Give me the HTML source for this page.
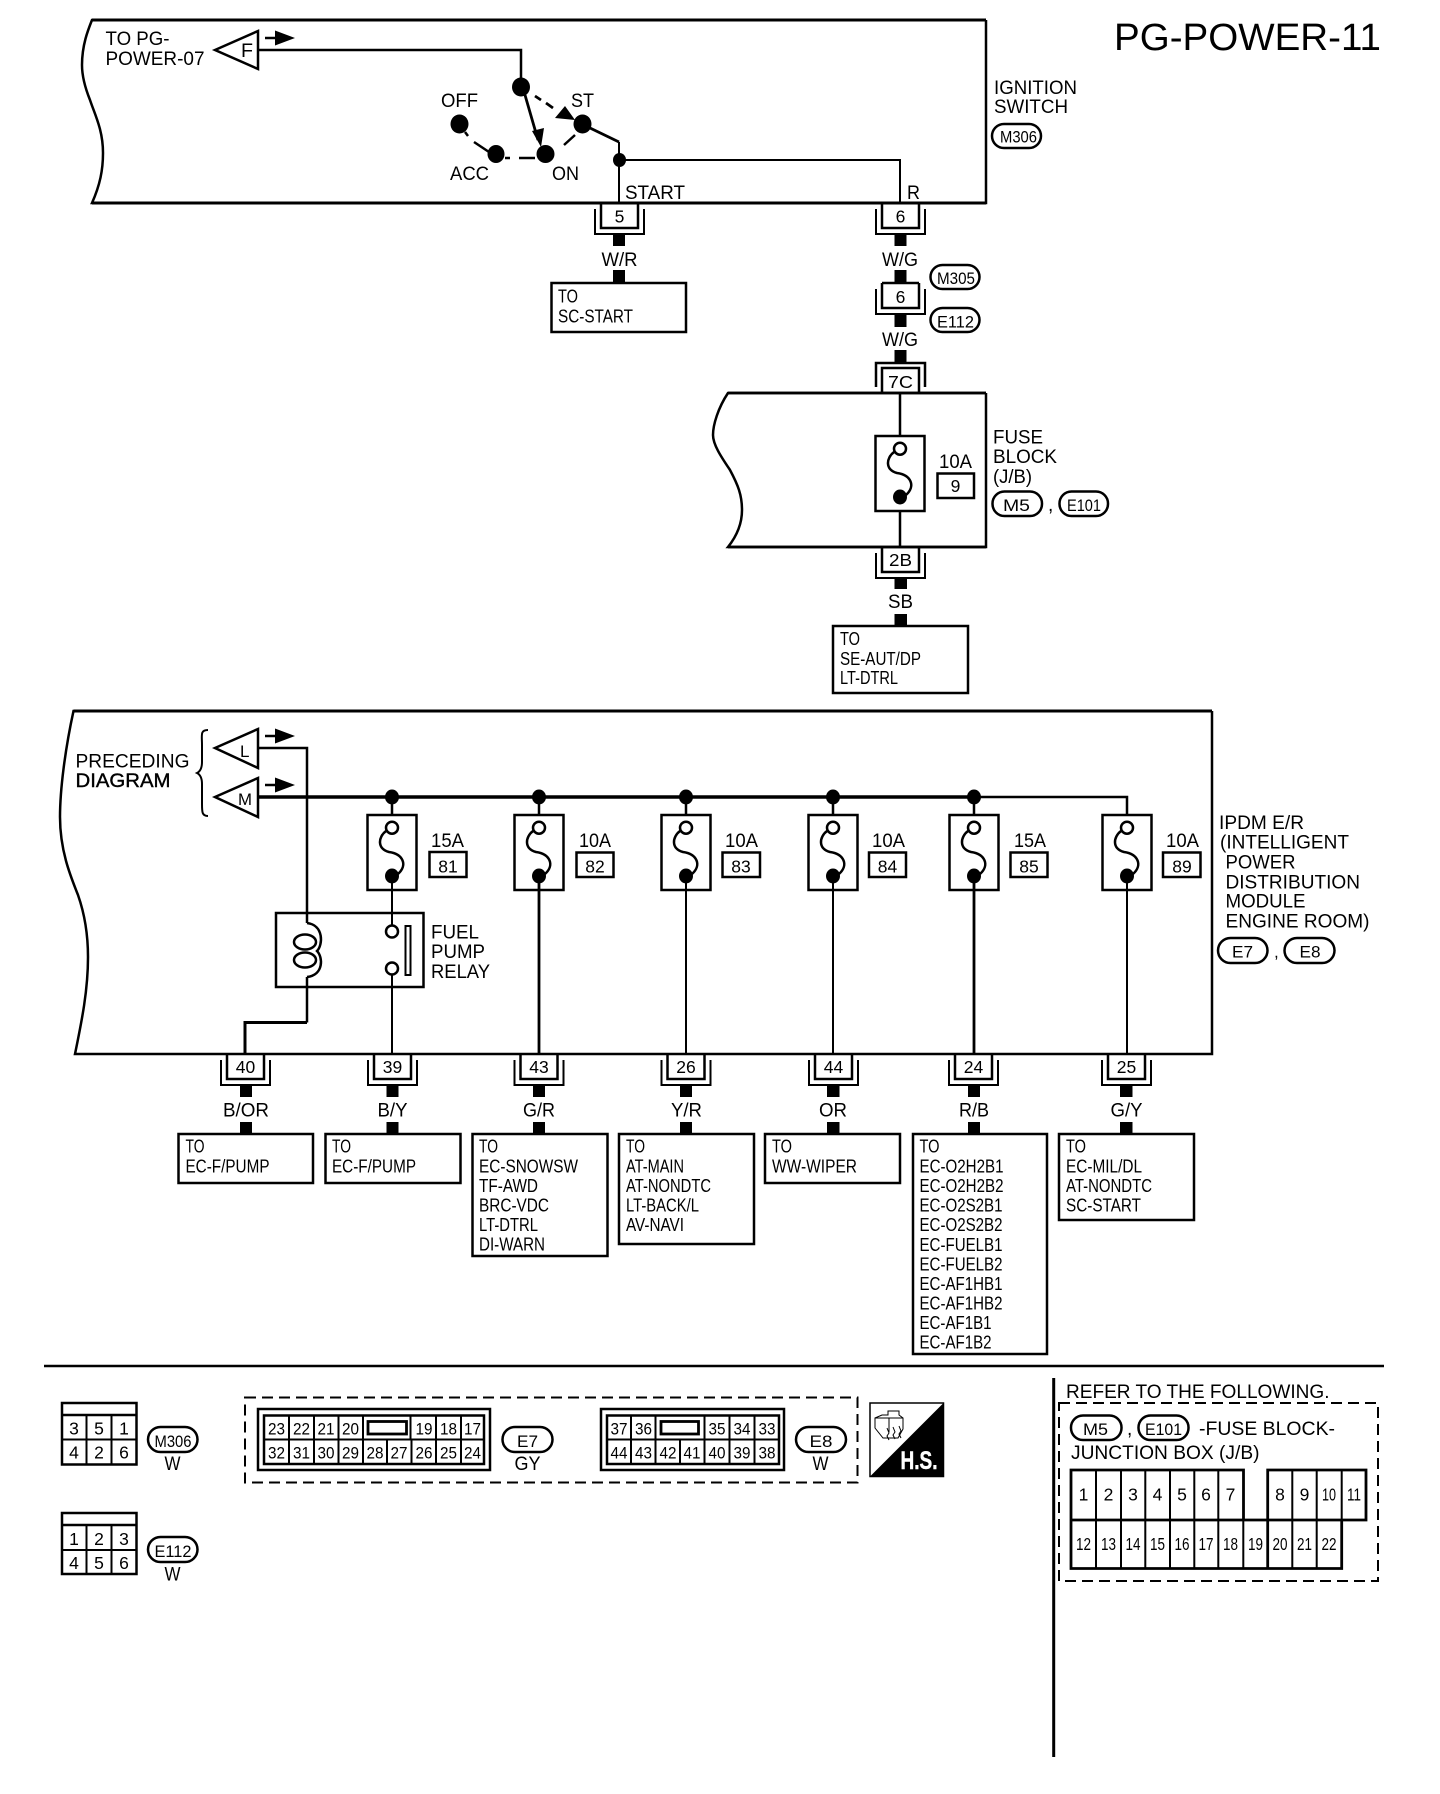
<!DOCTYPE html>
<html><head><meta charset="utf-8"><style>
html,body{margin:0;padding:0;background:#fff}
svg{display:block}
text{font-family:"Liberation Sans",sans-serif;fill:#000}
.l{font-size:19px}.b{font-size:18.5px}.n{font-size:17.5px;text-anchor:middle}.p{font-size:17px}
.s{fill:none;stroke:#000;stroke-width:2}
.t{fill:none;stroke:#000;stroke-width:3}
.w{fill:#fff;stroke:#000;stroke-width:2}
.c{stroke-width:2.2}.a{stroke-width:2.5}.d{stroke-width:2.8}.e{stroke-width:3.5}
</style></head><body>
<svg width="1440" height="1794" viewBox="0 0 1440 1794" xmlns="http://www.w3.org/2000/svg">
<defs>
<g id="fuse"><rect x="-24.5" y="0" width="49" height="75" class="w a"/><circle cx="0" cy="12.7" r="6" class="w a"/><path d="M-6 16C-14 22-15 34-3 37C11 39 16 50 6 59" class="s a"/><ellipse cx="0" cy="61" rx="7" ry="7.5"/></g>
<g id="conn"><path d="M-18.5 0V25H18.5V0" class="s a"/><path d="M-24.5 6V31H24.5V6" class="s"/></g>
<g id="arr"><path d="M0 0H12" class="s a"/><path d="M10-7.5L30 0L10 7.5Z"/></g>
<ellipse id="node" rx="7" ry="7.5"/>
</defs>

<text x="1114" y="50" font-size="38" textLength="267" lengthAdjust="spacingAndGlyphs">PG-POWER-11</text>

<!-- Ignition switch -->
<path d="M986 20V203H92C100 185 103 170 103 153C103 130 95 115 90 100C84 85 82 73 82 65C82 45 88 30 92 20H986" class="s a"/>
<path d="M92 20H986M92 203H986" class="t"/>
<path d="M215 50L258 31V69Z" class="s a"/>
<text x="241" y="57" class="l" textLength="12" lengthAdjust="spacingAndGlyphs">F</text>
<use href="#arr" x="265" y="38"/>
<text x="105.5" y="45" class="l" textLength="64" lengthAdjust="spacingAndGlyphs">TO PG-</text>
<text x="105.5" y="65" class="l" textLength="99" lengthAdjust="spacingAndGlyphs">POWER-07</text>
<path d="M258 50H521V85" class="s a"/>
<ellipse cx="521" cy="87" rx="9" ry="9.5"/>
<ellipse cx="459.5" cy="124" rx="9" ry="9.5"/>
<ellipse cx="496" cy="154" rx="8.5" ry="9"/>
<ellipse cx="545.5" cy="154" rx="9" ry="9"/>
<ellipse cx="582.5" cy="124" rx="9" ry="9.5"/>
<ellipse cx="619.5" cy="160" rx="6.5" ry="7"/>
<path d="M465 132L468 136M474 142L489 152M505 158H510M519 158H535M564 145L575 135" class="s a"/>
<path d="M525 95L538 140" class="s d"/>
<path d="M532 131L544 128L541 147Z"/>
<path d="M535 96L541 100M546 103L553 108" class="s d"/>
<path d="M555 118L565 106L575 120Z"/>
<path d="M619 142V203M619 160H900V203" class="s"/>
<path d="M590 128L619 142" class="s d"/>
<text x="441" y="107" class="l" textLength="37" lengthAdjust="spacingAndGlyphs">OFF</text>
<text x="571" y="107" class="l" textLength="23" lengthAdjust="spacingAndGlyphs">ST</text>
<text x="450" y="180" class="l" textLength="39" lengthAdjust="spacingAndGlyphs">ACC</text>
<text x="552" y="180" class="l" textLength="27" lengthAdjust="spacingAndGlyphs">ON</text>
<text x="625" y="199" class="l" textLength="60" lengthAdjust="spacingAndGlyphs">START</text>
<text x="907" y="199" class="l" textLength="13" lengthAdjust="spacingAndGlyphs">R</text>
<text x="994" y="94" class="l" textLength="83" lengthAdjust="spacingAndGlyphs">IGNITION</text>
<text x="994" y="113" class="l" textLength="74" lengthAdjust="spacingAndGlyphs">SWITCH</text>
<rect x="992" y="124" width="49" height="24" rx="12" class="s a"/>
<text x="1000" y="142.5" class="p" textLength="37" lengthAdjust="spacingAndGlyphs">M306</text>

<!-- connector 5 -->
<use href="#conn" x="619.5" y="203"/>
<text x="619.5" y="222.5" class="n">5</text>
<rect x="613" y="234" width="12" height="12"/>
<text x="601.5" y="266" class="l" textLength="36" lengthAdjust="spacingAndGlyphs">W/R</text>
<rect x="613" y="270" width="12" height="13"/>
<rect x="551.5" y="283" width="134.5" height="49" class="s a"/>
<text x="558" y="302.5" class="b" textLength="20" lengthAdjust="spacingAndGlyphs">TO</text>
<text x="558" y="322.5" class="b" textLength="75" lengthAdjust="spacingAndGlyphs">SC-START</text>

<!-- connector 6 chain -->
<use href="#conn" x="900.5" y="203"/>
<text x="900.5" y="222.5" class="n">6</text>
<rect x="894.5" y="234" width="12" height="12"/>
<text x="882" y="266" class="l" textLength="36" lengthAdjust="spacingAndGlyphs">W/G</text>
<rect x="894.5" y="270" width="12" height="13"/>
<path d="M882 283H919" class="s a"/>
<use href="#conn" x="900.5" y="283"/>
<text x="900.5" y="303" class="n">6</text>
<rect x="894.5" y="314" width="12" height="13"/>
<text x="882" y="346" class="l" textLength="36" lengthAdjust="spacingAndGlyphs">W/G</text>
<rect x="894.5" y="350" width="12" height="13"/>
<rect x="930.5" y="265" width="49" height="24" rx="12" class="s a"/>
<text x="937" y="284" class="p" textLength="38" lengthAdjust="spacingAndGlyphs">M305</text>
<rect x="930.5" y="308" width="49" height="24" rx="12" class="s a"/>
<text x="937" y="327.5" class="p" textLength="37" lengthAdjust="spacingAndGlyphs">E112</text>
<path d="M876 387V363H925V387M882 393V368H919V393" class="s a"/>
<text x="888" y="388" class="n" style="text-anchor:start" textLength="25" lengthAdjust="spacingAndGlyphs">7C</text>

<!-- fuse block -->
<path d="M986 393V547H728C736 537 742 525 742 510C742 495 738 485 730 470C722 458 713 445 713 435C713 425 718 408 728 393H986" class="s a"/>
<path d="M728 393H986M728 547H986" class="s d"/>
<path d="M900 393V547" class="s a"/>
<use href="#fuse" x="900" y="436"/>
<text x="939" y="468" class="l" textLength="33" lengthAdjust="spacingAndGlyphs">10A</text>
<rect x="937.5" y="473.5" width="36.5" height="24.5" class="s a"/>
<text x="955.5" y="492" class="n">9</text>
<text x="993" y="443.5" class="l" textLength="50" lengthAdjust="spacingAndGlyphs">FUSE</text>
<text x="993" y="463" class="l" textLength="64" lengthAdjust="spacingAndGlyphs">BLOCK</text>
<text x="993" y="483" class="l" textLength="39" lengthAdjust="spacingAndGlyphs">(J/B)</text>
<rect x="992.5" y="491.5" width="49.5" height="24.5" rx="12" class="s a"/>
<text x="1003" y="511" class="p" textLength="27" lengthAdjust="spacingAndGlyphs">M5</text>
<text x="1048" y="511" class="l">,</text>
<rect x="1059.5" y="491.5" width="48.5" height="24.5" rx="12" class="s a"/>
<text x="1067" y="511" class="p" textLength="34" lengthAdjust="spacingAndGlyphs">E101</text>
<use href="#conn" x="900.5" y="547"/>
<text x="889" y="566" class="n" style="text-anchor:start" textLength="23" lengthAdjust="spacingAndGlyphs">2B</text>
<rect x="894.5" y="577" width="12.5" height="12"/>
<text x="888" y="608" class="l" textLength="25" lengthAdjust="spacingAndGlyphs">SB</text>
<rect x="894.5" y="614" width="12.5" height="12"/>
<rect x="833" y="626" width="135" height="67" class="s a"/>
<text x="840" y="645" class="b" textLength="20" lengthAdjust="spacingAndGlyphs">TO</text>
<text x="840" y="665" class="b" textLength="81" lengthAdjust="spacingAndGlyphs">SE-AUT/DP</text>
<text x="840" y="684" class="b" textLength="58" lengthAdjust="spacingAndGlyphs">LT-DTRL</text>

<!-- IPDM -->
<path d="M1212 711V1054H75C82 1020 88 990 88 957C88 935 85 915 78 895C70 875 60 850 60 817C60 790 65 750 73.5 711H1212" class="s a"/>
<path d="M73.5 711H1212" class="t"/>
<path d="M208 730C200 730 202 735 202 745V762C202 770 199 772 197 773C199 774 202 776 202 784V804C202 812 202 816 208 816" class="s"/>
<text x="75.5" y="767.5" class="l" textLength="114" lengthAdjust="spacingAndGlyphs">PRECEDING</text>
<text x="75.5" y="787" class="l" textLength="95" lengthAdjust="spacingAndGlyphs" stroke="#000" stroke-width=".4">DIAGRAM</text>
<path d="M215 748L258 729V768Z" class="s a"/>
<text x="240" y="757" class="p">L</text>
<use href="#arr" x="265" y="736"/>
<path d="M215 797L258 778V817Z" class="s a"/>
<text x="238" y="805" class="p" textLength="14" lengthAdjust="spacingAndGlyphs">M</text>
<use href="#arr" x="265" y="785"/>
<path d="M258 748H307V923" class="s a"/>
<rect x="276" y="913" width="147.5" height="74" class="s a"/>
<path d="M307 923C324 925 323 945 317 951C323 957 324 975 307 977" class="s a"/>
<ellipse cx="305" cy="942" rx="11" ry="7.5" class="s a"/>
<ellipse cx="305" cy="960" rx="11" ry="7.5" class="s a"/>
<path d="M307 977V1022.5" class="s a"/>
<path d="M307 1022.5H245V1054" class="t"/>
<path d="M258 797H1127V815" class="s a"/>
<path d="M258 797H974" class="s e"/>
<use href="#node" x="392" y="797"/><use href="#node" x="539" y="797"/><use href="#node" x="686" y="797"/><use href="#node" x="833" y="797"/><use href="#node" x="974" y="797"/>
<path d="M392 797V815M539 797V815M686 797V815M833 797V815M974 797V815" class="s a"/>
<use href="#fuse" x="392" y="815"/><use href="#fuse" x="539" y="815"/><use href="#fuse" x="686" y="815"/><use href="#fuse" x="833" y="815"/><use href="#fuse" x="974" y="815"/><use href="#fuse" x="1127" y="815"/>
<path d="M392 876V925M392 975V1054M686 876V1054M833 876V1054M1127 876V1054" class="s"/>
<path d="M539 876V1054M974 876V1054" class="s d"/>
<circle cx="392" cy="931.5" r="6" class="w a"/><circle cx="392" cy="968.5" r="6" class="w a"/>
<rect x="405.5" y="926" width="5" height="49" class="w"/>
<text x="431" y="938.5" class="l" textLength="48" lengthAdjust="spacingAndGlyphs">FUEL</text>
<text x="431" y="958" class="l" textLength="54" lengthAdjust="spacingAndGlyphs">PUMP</text>
<text x="431" y="978" class="l" textLength="59" lengthAdjust="spacingAndGlyphs">RELAY</text>

<text x="431" y="847" class="l" textLength="33" lengthAdjust="spacingAndGlyphs">15A</text>
<rect x="429.5" y="852" width="37" height="25" class="s a"/><text x="448" y="872.5" class="n">81</text>
<text x="579" y="847" class="l" textLength="32" lengthAdjust="spacingAndGlyphs">10A</text>
<rect x="576.5" y="852.5" width="37" height="24.5" class="s a"/><text x="595" y="872.5" class="n">82</text>
<text x="725" y="847" class="l" textLength="33" lengthAdjust="spacingAndGlyphs">10A</text>
<rect x="722.5" y="852.5" width="37.5" height="24.5" class="s a"/><text x="741" y="872.5" class="n">83</text>
<text x="872" y="847" class="l" textLength="33" lengthAdjust="spacingAndGlyphs">10A</text>
<rect x="869" y="852.5" width="37" height="24.5" class="s a"/><text x="887.5" y="872.5" class="n">84</text>
<text x="1014" y="847" class="l" textLength="32" lengthAdjust="spacingAndGlyphs">15A</text>
<rect x="1010.5" y="852.5" width="37" height="24.5" class="s a"/><text x="1029" y="872.5" class="n">85</text>
<text x="1166" y="847" class="l" textLength="33" lengthAdjust="spacingAndGlyphs">10A</text>
<rect x="1163" y="852.5" width="37.5" height="24.5" class="s a"/><text x="1182" y="872.5" class="n">89</text>

<text x="1219" y="829" class="l" textLength="85" lengthAdjust="spacingAndGlyphs">IPDM E/R</text>
<text x="1220" y="848.5" class="l" textLength="129" lengthAdjust="spacingAndGlyphs">(INTELLIGENT</text>
<text x="1225.5" y="868.5" class="l" textLength="70" lengthAdjust="spacingAndGlyphs">POWER</text>
<text x="1225.5" y="888.5" class="l" textLength="134.5" lengthAdjust="spacingAndGlyphs">DISTRIBUTION</text>
<text x="1225.5" y="907.5" class="l" textLength="80" lengthAdjust="spacingAndGlyphs">MODULE</text>
<text x="1225.5" y="927.5" class="l" textLength="144" lengthAdjust="spacingAndGlyphs">ENGINE ROOM)</text>
<rect x="1218" y="938" width="49.5" height="25" rx="12.5" class="s a"/>
<text x="1232" y="957.5" class="p" textLength="21" lengthAdjust="spacingAndGlyphs">E7</text>
<text x="1274" y="957.5" class="p">,</text>
<rect x="1284.5" y="938" width="50" height="25" rx="12.5" class="s a"/>
<text x="1299.5" y="957.5" class="p" textLength="21" lengthAdjust="spacingAndGlyphs">E8</text>

<!-- bottom connectors -->
<use href="#conn" x="245.5" y="1054"/><text x="245.5" y="1073" class="n">40</text>
<use href="#conn" x="392.5" y="1054"/><text x="392.5" y="1073" class="n">39</text>
<use href="#conn" x="539" y="1054"/><text x="539" y="1073" class="n">43</text>
<use href="#conn" x="686" y="1054"/><text x="686" y="1073" class="n">26</text>
<use href="#conn" x="833.5" y="1054"/><text x="833.5" y="1073" class="n">44</text>
<use href="#conn" x="973.5" y="1054"/><text x="973.5" y="1073" class="n">24</text>
<use href="#conn" x="1126.5" y="1054"/><text x="1126.5" y="1073" class="n">25</text>
<g>
<rect x="240" y="1085" width="12" height="12"/><rect x="240" y="1122" width="12" height="12"/>
<rect x="386.5" y="1085" width="12" height="12"/><rect x="386.5" y="1122" width="12" height="12"/>
<rect x="533" y="1085" width="12" height="12"/><rect x="533" y="1122" width="12" height="12"/>
<rect x="680" y="1085" width="12" height="12"/><rect x="680" y="1122" width="12" height="12"/>
<rect x="827" y="1085" width="12.5" height="12"/><rect x="827" y="1122" width="12.5" height="12"/>
<rect x="968" y="1085" width="12" height="12"/><rect x="968" y="1122" width="12" height="12"/>
<rect x="1120" y="1085" width="12.5" height="12"/><rect x="1120" y="1122" width="12.5" height="12"/>
</g>
<text x="223" y="1116.5" class="l" textLength="46" lengthAdjust="spacingAndGlyphs">B/OR</text>
<text x="377.5" y="1116.5" class="l" textLength="30" lengthAdjust="spacingAndGlyphs">B/Y</text>
<text x="523" y="1116.5" class="l" textLength="32" lengthAdjust="spacingAndGlyphs">G/R</text>
<text x="671" y="1116.5" class="l" textLength="31" lengthAdjust="spacingAndGlyphs">Y/R</text>
<text x="819" y="1116.5" class="l" textLength="28" lengthAdjust="spacingAndGlyphs">OR</text>
<text x="959" y="1116.5" class="l" textLength="30" lengthAdjust="spacingAndGlyphs">R/B</text>
<text x="1110.5" y="1116.5" class="l" textLength="32" lengthAdjust="spacingAndGlyphs">G/Y</text>

<rect x="178.5" y="1134" width="134.5" height="49" class="s a"/>
<text x="185.5" y="1152.5" class="b" textLength="19" lengthAdjust="spacingAndGlyphs">TO</text>
<text x="185.5" y="1172.5" class="b" textLength="84" lengthAdjust="spacingAndGlyphs">EC-F/PUMP</text>
<rect x="325.5" y="1134" width="135" height="49" class="s a"/>
<text x="332" y="1152.5" class="b" textLength="19" lengthAdjust="spacingAndGlyphs">TO</text>
<text x="332" y="1172.5" class="b" textLength="84" lengthAdjust="spacingAndGlyphs">EC-F/PUMP</text>
<rect x="472.5" y="1134" width="135" height="122" class="s a"/>
<text x="479" y="1152.5" class="b" textLength="19" lengthAdjust="spacingAndGlyphs">TO</text>
<text x="479" y="1172.5" class="b" textLength="99" lengthAdjust="spacingAndGlyphs">EC-SNOWSW</text>
<text x="479" y="1192" class="b" textLength="59" lengthAdjust="spacingAndGlyphs">TF-AWD</text>
<text x="479" y="1211.5" class="b" textLength="70" lengthAdjust="spacingAndGlyphs">BRC-VDC</text>
<text x="479" y="1231" class="b" textLength="59" lengthAdjust="spacingAndGlyphs">LT-DTRL</text>
<text x="479" y="1250.5" class="b" textLength="66" lengthAdjust="spacingAndGlyphs">DI-WARN</text>
<rect x="619" y="1134" width="135" height="110" class="s a"/>
<text x="626" y="1152.5" class="b" textLength="19" lengthAdjust="spacingAndGlyphs">TO</text>
<text x="626" y="1172.5" class="b" textLength="58" lengthAdjust="spacingAndGlyphs">AT-MAIN</text>
<text x="626" y="1192" class="b" textLength="85" lengthAdjust="spacingAndGlyphs">AT-NONDTC</text>
<text x="626" y="1211.5" class="b" textLength="73" lengthAdjust="spacingAndGlyphs">LT-BACK/L</text>
<text x="626" y="1231" class="b" textLength="58" lengthAdjust="spacingAndGlyphs">AV-NAVI</text>
<rect x="765" y="1134" width="135" height="49" class="s a"/>
<text x="772" y="1152.5" class="b" textLength="20" lengthAdjust="spacingAndGlyphs">TO</text>
<text x="772" y="1172.5" class="b" textLength="85" lengthAdjust="spacingAndGlyphs">WW-WIPER</text>
<rect x="913" y="1134" width="134" height="220" class="s a"/>
<text x="919.5" y="1152.5" class="b" textLength="20" lengthAdjust="spacingAndGlyphs">TO</text>
<text x="919.5" y="1172.5" class="b" textLength="84" lengthAdjust="spacingAndGlyphs">EC-O2H2B1</text>
<text x="919.5" y="1192" class="b" textLength="84" lengthAdjust="spacingAndGlyphs">EC-O2H2B2</text>
<text x="919.5" y="1211.5" class="b" textLength="83" lengthAdjust="spacingAndGlyphs">EC-O2S2B1</text>
<text x="919.5" y="1231" class="b" textLength="83" lengthAdjust="spacingAndGlyphs">EC-O2S2B2</text>
<text x="919.5" y="1251" class="b" textLength="83" lengthAdjust="spacingAndGlyphs">EC-FUELB1</text>
<text x="919.5" y="1270.5" class="b" textLength="83" lengthAdjust="spacingAndGlyphs">EC-FUELB2</text>
<text x="919.5" y="1290" class="b" textLength="83" lengthAdjust="spacingAndGlyphs">EC-AF1HB1</text>
<text x="919.5" y="1309.5" class="b" textLength="83" lengthAdjust="spacingAndGlyphs">EC-AF1HB2</text>
<text x="919.5" y="1329" class="b" textLength="72" lengthAdjust="spacingAndGlyphs">EC-AF1B1</text>
<text x="919.5" y="1348.5" class="b" textLength="72" lengthAdjust="spacingAndGlyphs">EC-AF1B2</text>
<rect x="1059" y="1134" width="135" height="86" class="s a"/>
<text x="1066" y="1152.5" class="b" textLength="20" lengthAdjust="spacingAndGlyphs">TO</text>
<text x="1066" y="1172.5" class="b" textLength="76" lengthAdjust="spacingAndGlyphs">EC-MIL/DL</text>
<text x="1066" y="1192" class="b" textLength="86" lengthAdjust="spacingAndGlyphs">AT-NONDTC</text>
<text x="1066" y="1211.5" class="b" textLength="75" lengthAdjust="spacingAndGlyphs">SC-START</text>

<path d="M44 1366H1384" class="s a"/>
<path d="M1053.7 1378V1757" class="t"/>

<!-- harness connectors -->
<rect x="62" y="1403" width="74.5" height="61.5" class="s a"/>
<path d="M62 1415H136.5" class="s a"/><path d="M62 1439.5H136.5M86.5 1415V1464M111.5 1415V1464" class="s"/>
<rect x="62" y="1513" width="74.5" height="61" class="s a"/>
<path d="M62 1525H136.5" class="s a"/><path d="M62 1550H136.5M86.5 1525V1574M111.5 1525V1574" class="s"/>
<text x="74" y="1434.5" class="n">3</text><text x="99" y="1434.5" class="n">5</text><text x="124" y="1434.5" class="n">1</text>
<text x="74" y="1458.5" class="n">4</text><text x="99" y="1458.5" class="n">2</text><text x="124" y="1458.5" class="n">6</text>
<text x="74" y="1545" class="n">1</text><text x="99" y="1545" class="n">2</text><text x="124" y="1545" class="n">3</text>
<text x="74" y="1569" class="n">4</text><text x="99" y="1569" class="n">5</text><text x="124" y="1569" class="n">6</text>
<rect x="148" y="1427" width="49.5" height="25" rx="12.5" class="s a"/>
<text x="154.5" y="1447" class="p" textLength="37" lengthAdjust="spacingAndGlyphs">M306</text>
<text x="164.5" y="1470" class="l" textLength="16" lengthAdjust="spacingAndGlyphs">W</text>
<rect x="148" y="1537" width="49.5" height="25" rx="12.5" class="s a"/>
<text x="154.5" y="1557" class="p" textLength="37" lengthAdjust="spacingAndGlyphs">E112</text>
<text x="164.5" y="1580.5" class="l" textLength="16" lengthAdjust="spacingAndGlyphs">W</text>

<rect x="245" y="1397.5" width="612.5" height="85" fill="none" stroke="#000" stroke-width="2" stroke-dasharray="11 6"/>
<!-- E7 -->
<rect x="258" y="1409" width="232" height="61" class="s a"/>
<rect x="264" y="1415.5" width="220" height="48.5" class="s a"/>
<path d="M264 1439.5H484M289 1415V1464M314 1415V1464M338.5 1415V1464M363 1415V1464M410.5 1415V1439M436 1415V1464M461 1415V1464M387 1440V1464M411.5 1440V1464" class="s"/>
<rect x="368" y="1421.5" width="38.5" height="12.5" class="s d"/>
<g class="p">
<text x="276.5" y="1434.5" text-anchor="middle" textLength="17" lengthAdjust="spacingAndGlyphs">23</text>
<text x="301.5" y="1434.5" text-anchor="middle" textLength="17" lengthAdjust="spacingAndGlyphs">22</text>
<text x="326" y="1434.5" text-anchor="middle" textLength="17" lengthAdjust="spacingAndGlyphs">21</text>
<text x="350.5" y="1434.5" text-anchor="middle" textLength="17" lengthAdjust="spacingAndGlyphs">20</text>
<text x="424" y="1434.5" text-anchor="middle" textLength="17" lengthAdjust="spacingAndGlyphs">19</text>
<text x="448.5" y="1434.5" text-anchor="middle" textLength="17" lengthAdjust="spacingAndGlyphs">18</text>
<text x="472.5" y="1434.5" text-anchor="middle" textLength="17" lengthAdjust="spacingAndGlyphs">17</text>
<text x="276.5" y="1458.5" text-anchor="middle" textLength="17" lengthAdjust="spacingAndGlyphs">32</text>
<text x="301.5" y="1458.5" text-anchor="middle" textLength="17" lengthAdjust="spacingAndGlyphs">31</text>
<text x="326" y="1458.5" text-anchor="middle" textLength="17" lengthAdjust="spacingAndGlyphs">30</text>
<text x="350.5" y="1458.5" text-anchor="middle" textLength="17" lengthAdjust="spacingAndGlyphs">29</text>
<text x="375" y="1458.5" text-anchor="middle" textLength="17" lengthAdjust="spacingAndGlyphs">28</text>
<text x="399" y="1458.5" text-anchor="middle" textLength="17" lengthAdjust="spacingAndGlyphs">27</text>
<text x="424" y="1458.5" text-anchor="middle" textLength="17" lengthAdjust="spacingAndGlyphs">26</text>
<text x="448.5" y="1458.5" text-anchor="middle" textLength="17" lengthAdjust="spacingAndGlyphs">25</text>
<text x="472.5" y="1458.5" text-anchor="middle" textLength="17" lengthAdjust="spacingAndGlyphs">24</text>
</g>
<rect x="502.5" y="1427" width="50" height="25" rx="12.5" class="s a"/>
<text x="517" y="1447" class="p" textLength="21" lengthAdjust="spacingAndGlyphs">E7</text>
<text x="514.5" y="1470" class="l" textLength="26" lengthAdjust="spacingAndGlyphs">GY</text>
<!-- E8 -->
<rect x="601" y="1409" width="183" height="61" class="s a"/>
<rect x="607" y="1415.5" width="172" height="48.5" class="s a"/>
<path d="M607 1439.5H779M631 1415V1464M655.5 1415V1464M704.5 1415V1464M729.5 1415V1464M754.5 1415V1464M680 1440V1464" class="s"/>
<rect x="661" y="1421.5" width="37.5" height="12.5" class="s d"/>
<g class="p">
<text x="619" y="1434.5" text-anchor="middle" textLength="17" lengthAdjust="spacingAndGlyphs">37</text>
<text x="643.5" y="1434.5" text-anchor="middle" textLength="17" lengthAdjust="spacingAndGlyphs">36</text>
<text x="717" y="1434.5" text-anchor="middle" textLength="17" lengthAdjust="spacingAndGlyphs">35</text>
<text x="742" y="1434.5" text-anchor="middle" textLength="17" lengthAdjust="spacingAndGlyphs">34</text>
<text x="767" y="1434.5" text-anchor="middle" textLength="17" lengthAdjust="spacingAndGlyphs">33</text>
<text x="619" y="1458.5" text-anchor="middle" textLength="17" lengthAdjust="spacingAndGlyphs">44</text>
<text x="643.5" y="1458.5" text-anchor="middle" textLength="17" lengthAdjust="spacingAndGlyphs">43</text>
<text x="668" y="1458.5" text-anchor="middle" textLength="17" lengthAdjust="spacingAndGlyphs">42</text>
<text x="692" y="1458.5" text-anchor="middle" textLength="17" lengthAdjust="spacingAndGlyphs">41</text>
<text x="717" y="1458.5" text-anchor="middle" textLength="17" lengthAdjust="spacingAndGlyphs">40</text>
<text x="742" y="1458.5" text-anchor="middle" textLength="17" lengthAdjust="spacingAndGlyphs">39</text>
<text x="767" y="1458.5" text-anchor="middle" textLength="17" lengthAdjust="spacingAndGlyphs">38</text>
</g>
<rect x="796" y="1427" width="50" height="25" rx="12.5" class="s a"/>
<text x="809.5" y="1447" class="p" textLength="23" lengthAdjust="spacingAndGlyphs">E8</text>
<text x="812.5" y="1470" class="l" textLength="16" lengthAdjust="spacingAndGlyphs">W</text>
<!-- H.S. -->
<rect x="870" y="1403" width="73.5" height="73.5" fill="#fff" stroke="#000" stroke-width="1.5"/>
<path d="M943.5 1403V1476.5H870Z"/>
<text x="900.5" y="1469" font-size="25" font-weight="700" style="fill:#fff" stroke="#fff" stroke-width=".5" textLength="37" lengthAdjust="spacingAndGlyphs">H.S.</text>
<path d="M875 1418L882 1415H888V1411H899V1415L903 1418V1429L898 1438H883L875 1428ZM875 1418H903M889 1418V1432" fill="none" stroke="#000" stroke-width="1"/>
<path d="M887 1428L889 1433L887 1436L889 1440M893 1427L895 1432L893 1435L895 1439M899 1426L901 1431L899 1434L901 1438" fill="none" stroke="#000" stroke-width="1"/>

<!-- Fuse block reference -->
<text x="1066" y="1398" class="l" textLength="263.5" lengthAdjust="spacingAndGlyphs">REFER TO THE FOLLOWING.</text>
<rect x="1059" y="1403" width="319" height="178" fill="none" stroke="#000" stroke-width="2" stroke-dasharray="11 6"/>
<rect x="1071" y="1415.5" width="50.5" height="24.5" rx="12" class="s a"/>
<text x="1083" y="1435" class="p" textLength="25" lengthAdjust="spacingAndGlyphs">M5</text>
<text x="1127" y="1435" class="l">,</text>
<rect x="1138.5" y="1415.5" width="50" height="24.5" rx="12" class="s a"/>
<text x="1145" y="1435" class="p" textLength="37" lengthAdjust="spacingAndGlyphs">E101</text>
<text x="1199" y="1435" class="l" textLength="136" lengthAdjust="spacingAndGlyphs">-FUSE BLOCK-</text>
<text x="1071" y="1459" class="l" textLength="188.5" lengthAdjust="spacingAndGlyphs">JUNCTION BOX (J/B)</text>
<path d="M1096 1470V1568.5M1121 1470V1568.5M1145.3 1470V1568.5M1170 1470V1568.5M1194.3 1470V1568.5M1218.3 1470V1568.5M1243.3 1520V1568.5M1292.3 1470V1568.5M1316.7 1470V1568.5M1341.7 1470V1520" class="s"/>
<path d="M1243.5 1520V1470H1071V1568.5H1341.7V1520M1267.7 1568.5V1470H1366V1520H1071" class="s d"/>
<g class="n">
<text x="1083.5" y="1500.5">1</text><text x="1108.5" y="1500.5">2</text><text x="1133" y="1500.5">3</text><text x="1157.5" y="1500.5">4</text><text x="1182" y="1500.5">5</text><text x="1206" y="1500.5">6</text><text x="1230.5" y="1500.5">7</text>
<text x="1280" y="1500.5">8</text><text x="1304.5" y="1500.5">9</text>
<text x="1329" y="1500.5" textLength="14" lengthAdjust="spacingAndGlyphs">10</text><text x="1354" y="1500.5" textLength="14" lengthAdjust="spacingAndGlyphs">11</text>
<text x="1083.5" y="1550" textLength="15" lengthAdjust="spacingAndGlyphs">12</text>
<text x="1108.5" y="1550" textLength="15" lengthAdjust="spacingAndGlyphs">13</text>
<text x="1133" y="1550" textLength="15" lengthAdjust="spacingAndGlyphs">14</text>
<text x="1157.5" y="1550" textLength="15" lengthAdjust="spacingAndGlyphs">15</text>
<text x="1182" y="1550" textLength="15" lengthAdjust="spacingAndGlyphs">16</text>
<text x="1206" y="1550" textLength="15" lengthAdjust="spacingAndGlyphs">17</text>
<text x="1230.5" y="1550" textLength="15" lengthAdjust="spacingAndGlyphs">18</text>
<text x="1255.5" y="1550" textLength="15" lengthAdjust="spacingAndGlyphs">19</text>
<text x="1280" y="1550" textLength="15" lengthAdjust="spacingAndGlyphs">20</text>
<text x="1304.5" y="1550" textLength="15" lengthAdjust="spacingAndGlyphs">21</text>
<text x="1329" y="1550" textLength="15" lengthAdjust="spacingAndGlyphs">22</text>
</g>
</svg>
</body></html>
